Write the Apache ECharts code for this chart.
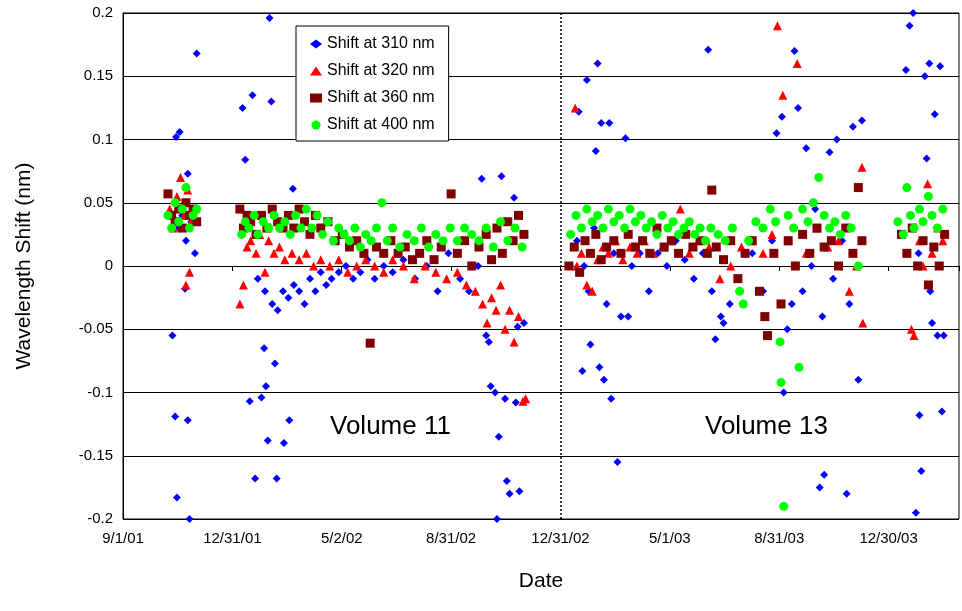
<!DOCTYPE html>
<html><head><meta charset="utf-8">
<script src="https://cdn.jsdelivr.net/npm/echarts@6/dist/echarts.min.js"></script>
<style>html,body{margin:0;background:#fff}#c{width:962px;height:611px}</style>
</head><body><div id="c"></div>
<script>
// x = days since 9/1/01, y = shift in nm
const tickLabels = ['9/1/01', '12/31/01', '5/2/02', '8/31/02', '12/31/02', '5/1/03', '8/31/03', '12/30/03'];
const tickStep = 121.67;

const shift310 = [
  [55,-0.055],[58,-0.119],[60,-0.183],[59,0.102],[63,0.106],[74,-0.2],[72,-0.122],[82,0.168],[72,0.073],[69,-0.018],
  [62,0.03],[66,0.04],[70,0.02],[76,0.035],[80,0.01],
  [133,0.125],[136,0.084],[144,0.135],[141,-0.107],[147,-0.168],[154,-0.104],[157,-0.065],[159,-0.095],[161,-0.138],
  [163,0.196],[165,0.13],[169,-0.077],[171,-0.168],[179,-0.14],[185,-0.122],[189,0.061],
  [150,-0.01],[158,-0.02],[166,-0.03],[172,-0.035],[178,-0.02],[184,-0.025],[190,-0.015],[196,-0.02],[202,-0.03],
  [208,-0.01],[214,-0.02],[220,-0.005],[226,-0.015],[232,-0.01],[240,-0.005],[248,0.0],[256,-0.01],[264,-0.005],
  [272,0.005],[280,-0.01],[290,0.0],[300,-0.005],[312,0.005],[325,-0.01],[338,0.0],[350,-0.02],[362,0.01],[375,-0.01],
  [385,-0.02],[395,0.0],
  [399,0.069],[404,-0.055],[407,-0.06],[409,-0.095],[414,-0.1],[416,-0.2],[418,-0.135],[421,0.071],[425,-0.105],
  [427,-0.17],[430,-0.18],[435,0.054],[437,-0.108],[439,-0.048],[441,-0.178],[446,-0.045],
  [507,0.122],[511,-0.083],[516,0.147],[520,-0.062],[526,0.091],[528,0.16],[530,-0.08],[532,0.113],[535,-0.09],
  [541,0.113],[543,-0.105],[550,-0.155],[559,0.101],[562,-0.04],
  [505,0.02],[513,0.0],[518,-0.02],[524,0.03],[538,-0.03],[546,0.01],[554,-0.04],[566,0.0],[575,0.01],[585,-0.02],
  [595,0.01],[605,0.0],[615,0.02],[625,0.005],[635,-0.01],[645,0.01],[655,-0.02],[665,-0.04],[675,-0.03],
  [651,0.171],[659,-0.058],[668,-0.045],[727,0.105],[733,0.118],[735,-0.1],[739,-0.05],[747,0.17],[751,0.125],
  [760,0.093],[770,0.045],[775,-0.175],[780,-0.165],[786,0.09],[794,0.1],[805,-0.18],[812,0.11],[818,-0.09],[822,0.115],
  [700,0.01],[712,-0.02],[722,0.02],[744,-0.03],[756,-0.02],[766,0.0],[778,-0.04],[790,-0.01],[800,0.02],[808,-0.03],
  [871,0.155],[875,0.19],[879,0.2],[882,-0.195],[886,-0.118],[888,-0.162],[892,0.15],[894,0.085],[897,0.16],
  [900,-0.045],[903,0.12],[906,-0.055],[909,0.158],[911,-0.115],[913,-0.055],[885,0.01],[898,-0.02],[905,0.03]
];
const shift320 = [
  [52,0.045],[56,0.03],[60,0.055],[64,0.07],[68,0.04],[72,0.06],[76,0.035],[70,-0.015],[74,-0.005],[80,0.045],
  [130,-0.03],[134,-0.015],[138,0.015],[142,0.02],[148,0.01],[152,0.025],[158,-0.005],[162,0.02],[168,0.01],[174,0.015],
  [180,0.005],[188,0.01],[196,0.005],[204,0.01],[212,0.0],[220,0.005],[230,0.0],[240,0.005],[250,-0.005],[260,0.0],
  [270,0.005],[280,0.0],[290,-0.005],[300,0.005],[312,0.0],[324,-0.01],[336,0.0],[348,-0.005],[360,-0.01],[372,-0.005],
  [382,-0.015],[392,-0.02],[400,-0.03],[405,-0.045],[410,-0.025],[415,-0.035],[420,-0.015],[425,-0.05],[430,-0.035],
  [435,-0.06],[440,-0.04],[445,-0.107],[448,-0.105],
  [503,0.125],[505,0.0],[510,0.01],[516,-0.015],[522,-0.02],[528,0.005],[534,0.015],[540,0.01],[548,0.02],[556,0.005],
  [564,0.015],[572,0.01],[580,0.02],[590,0.01],[600,0.015],[610,0.02],[620,0.045],[630,0.01],[640,0.02],[652,0.015],
  [664,-0.01],[676,0.0],[688,0.015],[700,0.02],[712,0.01],[722,0.025],[728,0.19],[734,0.135],[750,0.16],[740,0.02],
  [760,0.01],[772,0.03],[784,0.015],[796,0.02],[808,-0.02],[816,0.0],[822,0.078],[823,-0.045],
  [877,-0.05],[880,-0.055],[886,0.02],[890,0.0],[895,0.065],[900,0.01],[906,0.03],[912,0.02]
];
const shift360 = [
  [50,0.057],[54,0.04],[58,0.035],[62,0.045],[66,0.03],[70,0.05],[74,0.04],[78,0.045],[82,0.035],
  [130,0.045],[134,0.03],[138,0.04],[142,0.035],[148,0.025],[154,0.04],[160,0.03],[166,0.045],[172,0.035],[178,0.03],
  [184,0.04],[190,0.03],[196,0.045],[202,0.035],[208,0.025],[214,0.04],[220,0.03],[228,0.035],[236,0.02],[244,0.025],
  [252,0.015],[260,0.02],[268,0.01],[275,-0.061],[282,0.015],[290,0.01],[298,0.02],[306,0.01],[314,0.015],[322,0.005],
  [330,0.01],[338,0.02],[346,0.005],[354,0.015],[365,0.057],[372,0.01],[380,0.02],[388,0.0],[396,0.015],[404,0.025],
  [410,0.005],[416,0.03],[422,0.01],[428,0.035],[434,0.02],[440,0.04],[446,0.025],
  [496,0.0],[502,0.015],[508,-0.005],[514,0.02],[520,0.01],[526,0.025],[532,0.005],[538,0.015],[546,0.02],[554,0.01],
  [562,0.025],[570,0.015],[578,0.02],[586,0.01],[594,0.03],[602,0.015],[610,0.02],[618,0.01],[626,0.025],[634,0.015],
  [642,0.02],[650,0.01],[655,0.06],[660,0.015],[668,0.005],[676,0.02],[684,-0.01],[692,0.01],[700,0.02],[708,-0.02],
  [717,-0.055],[714,-0.04],[724,0.01],[732,-0.03],[740,0.02],[748,0.0],[756,0.025],[764,0.01],[772,0.03],[780,0.015],
  [788,0.02],[796,0.0],[804,0.03],[812,0.01],[818,0.062],[822,0.02],
  [866,0.025],[872,0.01],[878,0.03],[884,0.0],[890,0.02],[896,-0.015],[902,0.015],[908,0.0],[914,0.025]
];
const shift400 = [
  [50,0.04],[54,0.03],[58,0.05],[62,0.035],[66,0.045],[70,0.062],[74,0.03],[78,0.04],[82,0.045],
  [132,0.025],[136,0.035],[140,0.03],[146,0.04],[150,0.025],[156,0.035],[162,0.03],[168,0.04],[174,0.03],[180,0.035],
  [186,0.025],[192,0.04],[198,0.03],[204,0.045],[210,0.03],[216,0.04],[222,0.025],[228,0.035],[234,0.02],[240,0.03],
  [246,0.025],[252,0.02],[258,0.03],[264,0.015],[270,0.025],[276,0.02],[282,0.03],[288,0.05],[294,0.02],[300,0.03],
  [308,0.015],[316,0.025],[324,0.02],[332,0.03],[340,0.015],[348,0.025],[356,0.02],[364,0.03],[372,0.02],[380,0.03],
  [388,0.025],[396,0.02],[404,0.03],[412,0.015],[420,0.035],[428,0.02],[436,0.03],[444,0.015],
  [498,0.025],[504,0.04],[510,0.03],[516,0.045],[522,0.035],[528,0.04],[534,0.03],[540,0.045],[546,0.035],[552,0.04],
  [558,0.03],[564,0.045],[570,0.035],[576,0.04],[582,0.03],[588,0.035],[594,0.025],[600,0.04],[606,0.03],[612,0.035],
  [618,0.025],[624,0.03],[630,0.035],[636,0.025],[642,0.03],[648,0.02],[654,0.03],[662,0.025],[670,0.02],[678,0.03],
  [686,-0.02],[690,-0.03],[696,0.02],[704,0.035],[712,0.03],[720,0.045],[726,0.035],[731,-0.06],[732,-0.092],[735,-0.19],
  [740,0.04],[746,0.03],[752,-0.08],[756,0.045],[762,0.035],[768,0.05],[774,0.07],[780,0.04],[786,0.03],[792,0.035],
  [798,0.025],[804,0.04],[810,0.03],[818,0.0],
  [862,0.035],[868,0.025],[872,0.062],[876,0.04],[880,0.03],[886,0.045],[890,0.035],[896,0.055],[900,0.04],[906,0.03],[912,0.045]
];

const chart = echarts.init(document.getElementById('c'));
const font = 'Liberation Sans, Arial, sans-serif';
const mk = (name, data, symbol, color, size) => ({
  name, type: 'scatter', data, symbol, symbolSize: size,
  itemStyle: { color, opacity: 1 }, animation: false
});
const s310 = mk('Shift at 310 nm', shift310, 'diamond', '#0000ff', 8);
s310.markLine = {
  silent: true, symbol: 'none', label: { show: false },
  lineStyle: { color: '#000', type: [2, 2], width: 1.5 },
  data: [{ xAxis: tickStep * 4 }]
};
chart.setOption({
  animation: false,
  textStyle: { fontFamily: font },
  grid: { left: 123, right: 2, top: 13, bottom: 92, show: true, borderColor: '#000', borderWidth: 1 },
  legend: {
    orient: 'vertical', left: 296, top: 26, width: 200,
    padding: [10, 14, 8, 14], itemGap: 11, itemWidth: 12, itemHeight: 9,
    backgroundColor: '#fff', borderColor: '#000', borderWidth: 1,
    textStyle: { fontSize: 16, color: '#000', fontFamily: font }
  },
  xAxis: {
    type: 'value', min: 0, max: 930, interval: tickStep,
    name: 'Date', nameLocation: 'middle', nameGap: 52,
    nameTextStyle: { fontSize: 21, color: '#000' },
    splitLine: { show: false },
    axisLine: { lineStyle: { color: '#000' } },
    axisTick: { lineStyle: { color: '#000' } },
    axisLabel: { fontSize: 15, color: '#000', margin: 12,
      formatter: v => tickLabels[Math.round(v / tickStep)] || '' }
  },
  yAxis: {
    type: 'value', min: -0.2, max: 0.2, interval: 0.05,
    name: 'Wavelength Shift (nm)', nameLocation: 'middle', nameGap: 88,
    nameTextStyle: { fontSize: 21, color: '#000' },
    splitLine: { lineStyle: { color: '#000', width: 1 } },
    axisLine: { lineStyle: { color: '#000' } },
    axisTick: { show: false },
    axisLabel: { fontSize: 15, color: '#000', margin: 10, formatter: v => String(+v.toFixed(2)) }
  },
  graphic: [
    { type: 'text', left: 330, top: 414, style: { text: 'Volume 11', fontSize: 26, fill: '#000', fontFamily: font } },
    { type: 'text', left: 705, top: 414, style: { text: 'Volume 13', fontSize: 26, fill: '#000', fontFamily: font } }
  ],
  series: [
    s310,
    mk('Shift at 320 nm', shift320, 'triangle', '#ff0000', 9),
    mk('Shift at 360 nm', shift360, 'rect', '#800000', 9),
    mk('Shift at 400 nm', shift400, 'circle', '#00ff00', 9)
  ]
});
</script></body></html>
